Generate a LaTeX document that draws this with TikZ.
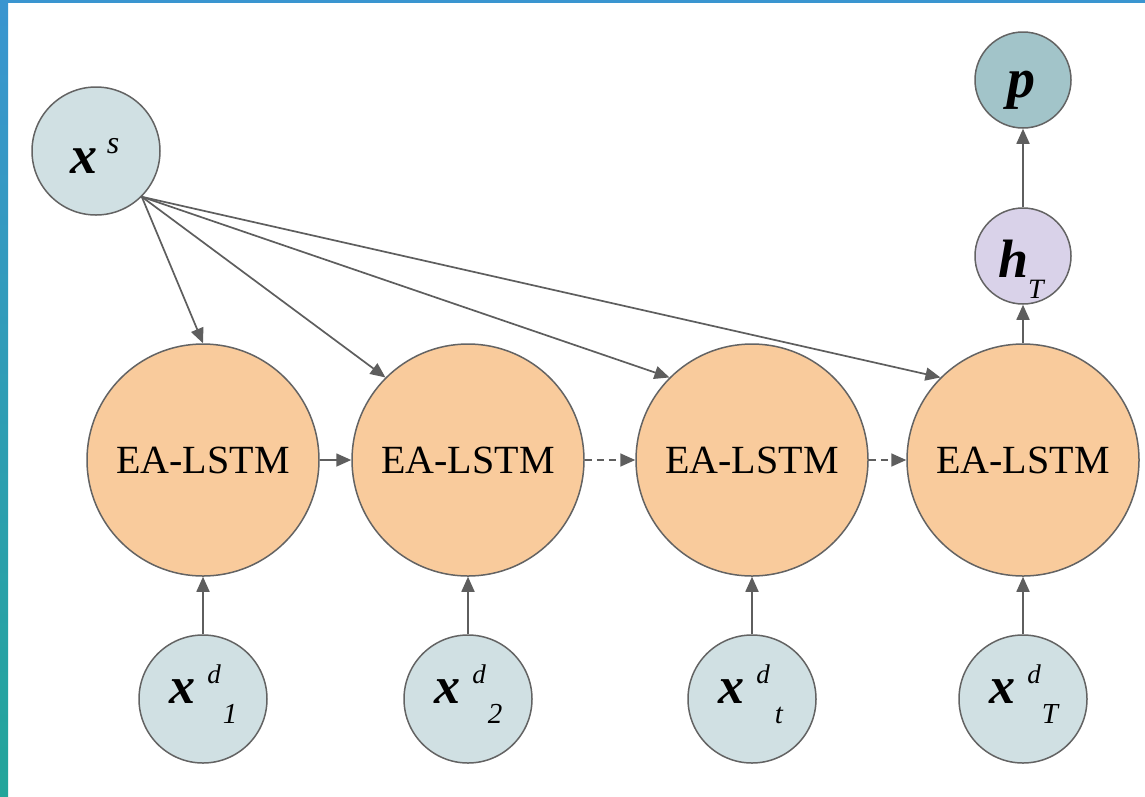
\documentclass[tikz,border=0pt]{standalone}
\usepackage{fontspec}
\setmainfont{Liberation Serif}
\usetikzlibrary{arrows.meta}
\definecolor{edgec}{HTML}{5E5E5E}
\definecolor{rimc}{HTML}{636363}
\definecolor{inc}{HTML}{D0E0E3}
\definecolor{eac}{HTML}{F9CB9C}
\definecolor{pc}{HTML}{A2C4C9}
\definecolor{hc}{HTML}{D9D2E9}
\definecolor{stripA}{HTML}{3A95D0}
\definecolor{stripB}{HTML}{2E9DAE}
\definecolor{stripC}{HTML}{22A59A}
\newcommand{\fs}[1]{\fontsize{#1}{#1}\selectfont}
\newcommand{\putat}[3]{\makebox[0pt][l]{\hspace*{#1pt}\raisebox{#2pt}[0pt][0pt]{\makebox[0pt][c]{#3}}}}
\newcommand{\xdlab}[1]{\putat{-21}{-4}{\fs{52}\bfseries\itshape x}\putat{11}{16}{\fs{27}\itshape d}\putat{27}{-24}{\fs{29}\itshape #1}}
\tikzset{
  circ/.style={circle, draw=rimc, line width=1.5pt, inner sep=0pt},
  innode/.style={circ, fill=inc, minimum size=128pt},
  eanode/.style={circ, fill=eac, minimum size=232pt, font=\fs{40}},
  smallnode/.style={circ, minimum size=96pt},
  conn/.style={draw=edgec, line width=1.7pt, -{Triangle[length=15pt,width=13pt]}},
  dconn/.style={conn, dash pattern=on 7pt off 5pt},
}
\begin{document}
\begin{tikzpicture}[x=1pt,y=-1pt]
\useasboundingbox (0,0) rectangle (1145,796);
\fill[white] (0,0) rectangle (1145,796);
\shade[top color=stripA, middle color=stripB, bottom color=stripC] (0,0) rectangle (8,796);
\fill[stripA] (0,0) rectangle (1145,3);

\node[innode] (xs) at (96,151) {\putat{-12.5}{-22}{\fs{54}\bfseries\itshape x}\putat{17}{-2}{\fs{32}\itshape s}};

\node[eanode] (ea1) at (203,460) {EA-LSTM};
\node[eanode] (ea2) at (468,460) {EA-LSTM};
\node[eanode] (ea3) at (752,460) {EA-LSTM};
\node[eanode] (ea4) at (1023,460) {EA-LSTM};

\node[innode] (x1) at (203,699) {\xdlab{1}};
\node[innode] (x2) at (468,699) {\xdlab{2}};
\node[innode] (xt) at (752,699) {\xdlab{t}};
\node[innode] (xT) at (1023,699) {\xdlab{T}};

\node[smallnode, fill=hc] (hT) at (1023,256) {\putat{-9}{-21}{\fs{54}\bfseries\itshape h}\putat{13}{-42}{\fs{28}\itshape T}};
\node[smallnode, fill=pc] (p) at (1023,80) {\putat{-2}{-17}{\fs{56}\bfseries\itshape p}};

\draw[conn] (xs.south east) -- (ea1.north);
\draw[conn] (xs.south east) -- (ea2.north west);
\draw[conn] (xs.south east) -- (ea3.north west);
\draw[conn] (xs.south east) -- (ea4.north west);

\draw[conn] (ea1) -- (ea2);
\draw[dconn] (ea2) -- (ea3);
\draw[dconn] (ea3) -- (ea4);

\draw[conn] (x1) -- (ea1);
\draw[conn] (x2) -- (ea2);
\draw[conn] (xt) -- (ea3);
\draw[conn] (xT) -- (ea4);

\draw[conn] (ea4) -- (hT);
\draw[conn] (hT) -- (p);
\end{tikzpicture}
\end{document}
